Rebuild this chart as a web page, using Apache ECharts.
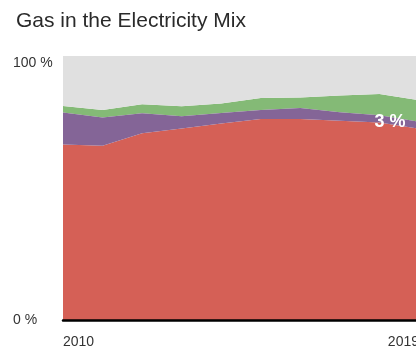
<!DOCTYPE html>
<html>
<head>
<meta charset="utf-8">
<script src="https://cdn.jsdelivr.net/npm/echarts@6/dist/echarts.min.js"></script>
<style>
html,body{margin:0;padding:0;background:#fff;}
#chart{width:416px;height:349px;}
</style>
</head>
<body>
<div id="chart"></div>
<script>
const years = ['2010','2011','2012','2013','2014','2015','2016','2017','2018','2019'];
const redValues    = [66.5, 66.0, 70.7, 72.5, 74.4, 76.1, 76.1, 75.5, 74.8, 72.5];
const purpleValues = [12.1, 10.7, 7.6, 4.7, 4.0, 3.4, 4.2, 3.2, 2.8, 2.6];
const greenValues  = [2.5, 2.8, 3.4, 3.8, 3.6, 4.6, 4.0, 6.3, 8.0, 8.2];
const yTicks = [0, 100];
const grayValues = redValues.map((v, i) => +(100 - v - purpleValues[i] - greenValues[i]).toFixed(1));
const labelText = '3 %';

const FONT = 'Liberation Sans, Arial, Helvetica, sans-serif';
const chart = echarts.init(document.getElementById('chart'), null, {renderer: 'canvas'});

function areaSeries(name, data, color) {
  return {
    name: name,
    type: 'line',
    stack: 'total',
    data: data,
    symbol: 'none',
    smooth: false,
    lineStyle: {width: 0},
    areaStyle: {color: color, opacity: 1},
    itemStyle: {color: color},
    emphasis: {disabled: true},
    z: 2
  };
}

const last = years.length - 1;
const purpleSeries = areaSeries('Purple', purpleValues, '#846597');
purpleSeries.markPoint = {
  symbol: 'circle',
  symbolSize: 1,
  silent: true,
  animation: false,
  itemStyle: {color: '#846597', opacity: 1},
  label: {
    show: true,
    position: 'left',
    distance: 13,
    formatter: labelText,
    color: '#ffffff',
    opacity: 1,
    fontWeight: 'bold',
    fontSize: 18,
    fontFamily: FONT
  },
  data: [{coord: [years[last], redValues[last] + purpleValues[last]]}]
};
purpleSeries.z = 5;

chart.setOption({
  animation: false,
  backgroundColor: '#ffffff',
  title: {
    text: 'Gas in the Electricity Mix',
    left: 11,
    top: 6,
    textStyle: {
      fontFamily: FONT,
      fontSize: 21,
      fontWeight: 'normal',
      color: '#2a2a2a'
    }
  },
  grid: {left: 63, width: 356, top: 56, bottom: 29, containLabel: false, outerBoundsMode: 'none'},
  xAxis: {
    type: 'category',
    data: years,
    boundaryGap: false,
    axisLine: {show: true, lineStyle: {color: '#000', width: 2.5}},
    axisTick: {show: false},
    splitLine: {show: false},
    axisLabel: {
      interval: (idx) => idx === 0 || idx === years.length - 1,
      alignMinLabel: 'left',
      alignMaxLabel: 'right',
      margin: 15,
      fontSize: 14,
      color: '#333',
      fontFamily: FONT
    },
    z: 10
  },
  yAxis: {
    type: 'value',
    min: yTicks[0],
    max: yTicks[1],
    interval: 100,
    axisLine: {show: false},
    axisTick: {show: false},
    splitLine: {show: true, lineStyle: {color: '#c4c4c4', width: 1}},
    axisLabel: {
      formatter: (v) => v + ' %',
      align: 'left',
      margin: 50,
      verticalAlignMaxLabel: 'top',
      verticalAlignMinLabel: 'middle',
      fontSize: 14,
      color: '#333',
      fontFamily: FONT
    }
  },
  series: [
    areaSeries('Red', redValues, '#d56056'),
    purpleSeries,
    areaSeries('Green', greenValues, '#84ba76'),
    areaSeries('Gray', grayValues, '#e0e0e0')
  ]
});
</script>
</body>
</html>
